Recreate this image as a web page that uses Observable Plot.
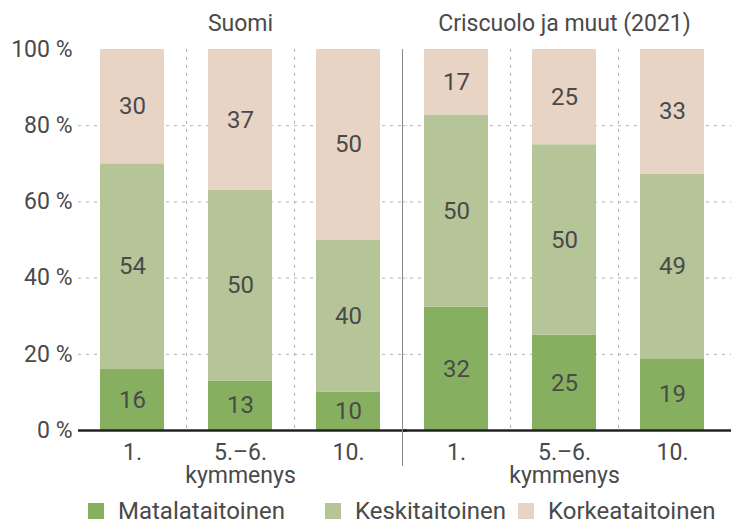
<!DOCTYPE html>
<html>
<head>
<meta charset="utf-8">
<script src="https://cdn.jsdelivr.net/npm/d3@7"></script>
<script src="https://cdn.jsdelivr.net/npm/@observablehq/plot@0.6"></script>
<style>
  body { margin: 0; background: #fff; font-family: Roboto, sans-serif; }
  #chart svg { display: block; }
  #legend { display: flex; align-items: center; height: 32px; padding-top: 3px; padding-left: 88px; font-size: 24px; color: #4a4a4a; }
  #legend .item { display: flex; align-items: center; }
  #legend .sw { width: 16px; height: 16px; margin-right: 14px; display: inline-block; }
</style>
</head>
<body>
<div id="chart"></div>
<script>
const groups = ["Suomi", "Criscuolo ja muut (2021)"];
const deciles = ["1.", "5.–6.\nkymmenys", "10."];
const levels = ["Matalataitoinen", "Keskitaitoinen", "Korkeataitoinen"];
const colors = ["#86b060", "#b5c598", "#e8d4c4"];
// order: Suomi 1., 5.–6., 10., Criscuolo 1., 5.–6., 10.
const matala = [16, 13, 10, 32, 25, 19];
const keski = [54, 50, 40, 50, 50, 49];
const korkea = [30, 37, 50, 17, 25, 33];
const yTicks = [0, 0.2, 0.4, 0.6, 0.8, 1];
const gridY = [0.2, 0.4, 0.6, 0.8];

const rows = [];
[matala, keski, korkea].forEach((vals, li) =>
  vals.forEach((v, i) => rows.push({
    group: groups[Math.floor(i / 3)],
    decile: deciles[i % 3],
    level: levels[li],
    value: v
  }))
);

const textColor = "#4a4a4a";

const chart = Plot.plot({
  width: 731,
  height: 492,
  marginTop: 49,
  marginBottom: 62,
  marginLeft: 78,
  marginRight: 5,
  style: { fontFamily: "Roboto, sans-serif", fontSize: "23px", color: textColor, background: "#fff" },
  fx: { domain: groups, padding: 0 },
  x: { domain: deciles, padding: 0 },
  y: { domain: [0, 1] },
  color: { domain: levels, range: colors },
  marks: [
    Plot.ruleY(gridY, { stroke: "#b0b0b0", strokeDasharray: "3,5", insetRight: -5 }),
    Plot.ruleX(deciles.slice(0, 2), { x: d => d, dx: 54, stroke: "#b0b0b0", strokeDasharray: "3,5" }),
    Plot.barY(rows, Plot.stackY({ fx: "group", x: "decile", y: "value", fill: "level", offset: "normalize", insetLeft: 22, insetRight: 22 })),
    Plot.text(rows, Plot.stackY({ fx: "group", x: "decile", y: "value", z: "level", text: "value", offset: "normalize", fill: textColor, fontSize: 24 })),
    Plot.ruleY([0], { stroke: "#222", strokeWidth: 2.5, insetRight: -5 }),
    Plot.frame({ anchor: "right", facetAnchor: "left", insetBottom: -35, stroke: "#888" }),
    Plot.axisY({ ticks: yTicks, tickFormat: d => `${Math.round(d * 100)} %`, tickSize: 0, tickPadding: 6, label: null, fontSize: 23 }),
    Plot.axisX({ tickSize: 0, tickPadding: 13, label: null, lineHeight: 1, fontSize: 23 }),
    Plot.axisFx({ anchor: "top", tickSize: 0, tickPadding: 19, label: null, fontSize: 23 })
  ]
});

document.getElementById("chart").appendChild(chart);

const legend = document.createElement("div");
legend.id = "legend";
const widths = [237, 193, null];
levels.forEach((l, i) => {
  const item = document.createElement("div");
  item.className = "item";
  if (widths[i]) item.style.width = widths[i] + "px";
  const sw = document.createElement("span");
  sw.className = "sw";
  sw.style.background = colors[i];
  const lab = document.createElement("span");
  lab.textContent = l;
  item.appendChild(sw);
  item.appendChild(lab);
  legend.appendChild(item);
});
document.body.appendChild(legend);
</script>
</body>
</html>
